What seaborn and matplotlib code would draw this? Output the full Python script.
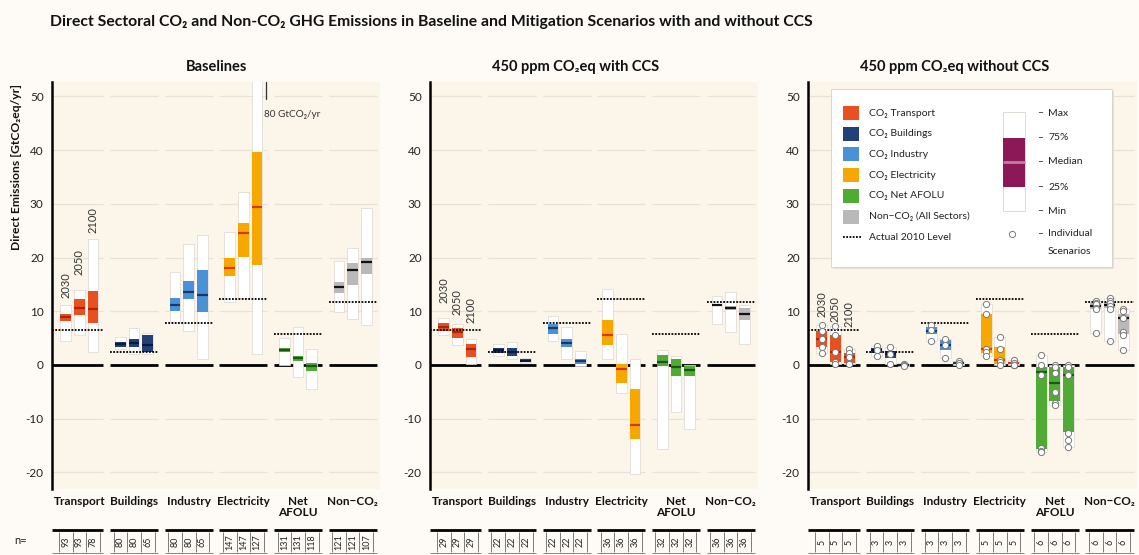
import numpy as np
import pandas as pd
import matplotlib
matplotlib.use("Agg")
import matplotlib.pyplot as plt
from matplotlib.patches import Rectangle
import seaborn as sns

# ---------------------------------------------------------------- data
sectors = ["Transport", "Buildings", "Industry", "Electricity", "Net\nAFOLU", "Non\u2212CO\u2082"]
years = ["2030", "2050", "2100"]
panel_titles = ["Baselines", "450 ppm CO\u2082eq with CCS", "450 ppm CO\u2082eq without CCS"]

# Actual 2010 emission level per sector [GtCO2eq/yr]
actual_2010 = [6.6, 2.5, 7.8, 12.3, 5.8, 11.8]

# Baselines: sector-major order (Transport 2030/2050/2100, Buildings ..., ...)
base_min = [4.5, 5.6, 2.4, 3.0, 2.0, 2.0, 8.0, 6.4, 1.1, 11.7, 12.5, 2.0, 0.0, -2.3, -4.5, 9.9, 8.6, 7.4]
base_q1 = [8.2, 9.3, 7.8, 3.3, 3.3, 2.4, 10.1, 12.2, 9.9, 16.5, 20.2, 18.6, 2.4, 0.8, -1.1, 13.4, 14.9, 16.9]
base_med = [8.9, 10.7, 10.4, 3.85, 4.1, 3.7, 11.2, 13.5, 13.0, 18.1, 24.6, 29.4, 2.8, 1.3, -0.2, 14.5, 17.7, 19.2]
base_q3 = [9.5, 12.3, 13.8, 4.3, 4.8, 5.6, 12.5, 15.7, 17.7, 19.9, 26.4, 39.7, 3.2, 1.7, 0.3, 15.5, 19.0, 20.0]
base_max = [11.2, 14.0, 23.5, 5.2, 6.9, 6.0, 17.3, 22.5, 24.2, 24.7, 32.3, 80.0, 5.1, 7.0, 3.0, 19.4, 21.7, 29.2]
base_n = [93, 93, 78, 80, 80, 65, 80, 80, 65, 147, 147, 127, 131, 131, 118, 121, 121, 107]

# 450 ppm CO2eq with CCS
ccs_min = [5.5, 3.7, 0.2, 1.6, 1.2, 0.4, 4.5, 1.2, -0.2, 1.1, -5.2, -20.3, -15.7, -8.7, -12.0, 7.6, 6.1, 3.9]
ccs_q1 = [6.4, 5.1, 1.4, 2.2, 1.6, 0.5, 5.8, 3.3, 0.2, 3.7, -3.4, -13.7, -0.2, -2.0, -2.0, 10.9, 10.3, 8.3]
ccs_med = [7.1, 6.1, 3.0, 2.8, 2.4, 0.8, 6.8, 4.1, 0.7, 5.5, -0.7, -11.1, 0.6, -0.4, -0.9, 11.2, 10.6, 9.5]
ccs_q3 = [7.8, 6.8, 3.9, 3.2, 3.1, 1.1, 7.6, 4.8, 1.2, 8.4, 0.2, -4.5, 1.9, 1.1, -0.2, 11.4, 10.9, 10.6]
ccs_max = [8.7, 7.6, 4.8, 3.9, 4.3, 1.3, 9.1, 7.0, 2.6, 14.2, 5.8, 1.1, 2.8, 1.6, 0.0, 12.8, 13.5, 11.2]
ccs_n = [29, 29, 29, 22, 22, 22, 22, 22, 22, 36, 36, 36, 32, 32, 32, 36, 36, 36]

# 450 ppm CO2eq without CCS
noccs_min = [2.2, 0.1, 0.1, 1.6, 0.2, -0.2, 4.5, 1.3, 0.0, 1.6, 0.0, 0.0, -16.3, -7.4, -15.2, 6.0, 4.5, 2.7]
noccs_q1 = [3.3, 0.6, 0.4, 2.2, 1.3, -0.1, 5.8, 2.7, 0.1, 2.3, 0.2, 0.1, -15.7, -6.8, -12.5, 10.5, 10.6, 5.8]
noccs_med = [4.8, 2.4, 1.5, 2.7, 2.0, 0.0, 6.4, 3.7, 0.3, 3.0, 1.0, 0.3, -1.3, -3.4, -1.9, 11.0, 11.2, 8.7]
noccs_q3 = [6.4, 5.6, 2.3, 3.1, 2.6, 0.05, 7.0, 4.6, 0.5, 9.5, 3.3, 0.6, -0.3, -0.3, -0.3, 11.5, 11.8, 9.4]
noccs_max = [7.4, 7.2, 2.9, 3.5, 3.3, 0.1, 7.4, 4.9, 0.7, 11.3, 5.2, 1.0, 1.9, 0.0, 0.0, 12.0, 12.4, 10.4]
noccs_n = [5, 5, 5, 3, 3, 3, 3, 3, 3, 5, 5, 5, 6, 6, 6, 6, 6, 6]

# Individual scenarios without CCS (one list per sector/year)
noccs_points = [
    [7.4, 6.4, 4.8, 3.3, 2.2], [7.2, 5.6, 2.4, 0.6, 0.1], [2.9, 2.3, 1.5, 0.4, 0.1],
    [3.5, 2.7, 1.6], [3.3, 2.0, 0.2], [0.1, 0.0, -0.1],
    [7.4, 6.6, 4.5], [4.9, 3.7, 1.3], [0.7, 0.3, 0.0],
    [11.3, 9.5, 3.0, 2.4, 1.6], [5.2, 2.9, 1.0, 0.6, 0.0], [1.0, 0.3, 0.0, 0.0, 0.0],
    [1.9, 0.0, -1.9, -15.5, -16.0, -16.3], [0.0, -0.3, -1.5, -5.0, -7.0, -7.4], [0.0, -0.3, -1.9, -12.7, -14.0, -15.2],
    [12.0, 11.6, 11.3, 10.7, 10.4, 6.0], [12.4, 11.9, 11.6, 10.9, 10.5, 4.5], [10.4, 10.1, 8.7, 6.1, 5.5, 2.7],
]

legend_labels = ["CO\u2082 Transport", "CO\u2082 Buildings", "CO\u2082 Industry", "CO\u2082 Electricity",
                 "CO\u2082 Net AFOLU", "Non\u2212CO\u2082 (All Sectors)"]
stat_labels = ["Max", "75%", "Median", "25%", "Min"]

# ---------------------------------------------------------------- style
sector_colors = ["#e8501f", "#22417a", "#4a92d8", "#f7a800", "#4fab34", "#b9b9b9"]
median_colors = ["#a9250b", "#0c1a3a", "#1b3768", "#d8361a", "#1c561b", "#111111"]
FIG_BG = "#fefbf6"
AX_BG = "#fcf5ea"
GRID = "#e8e1d6"
DOTS = (0, (1, 0.8))

sns.set_theme(style="white")
plt.rcParams["font.family"] = ["Lato", "Noto Sans", "DejaVu Sans"]
plt.rcParams["axes.unicode_minus"] = False

W, H = 1139, 555
fig = plt.figure(figsize=(W / 100, H / 100), dpi=100, facecolor=FIG_BG)


def px_axes(x0, y0, x1, y1):
    return fig.add_axes([x0 / W, 1 - y1 / H, (x1 - x0) / W, (y1 - y0) / H])


panel_x = [(52, 380), (430, 758), (808, 1137)]
AX_TOP, AX_BOT = 82, 489
YLIM = (-23.1, 52.7)
year_offsets = np.array([-0.25, 0.0, 0.25])
BAR_W = 0.2
xpos = np.array([s + o for s in range(6) for o in year_offsets])
box_colors = [sector_colors[s] for s in range(6) for _ in years]
med_colors = [median_colors[s] for s in range(6) for _ in years]

panels = [
    dict(stats=(base_min, base_q1, base_med, base_q3, base_max), n=base_n, points=None,
         year_y=[12.5, 16.8, 24.6], title_x=217),
    dict(stats=(ccs_min, ccs_q1, ccs_med, ccs_q3, ccs_max), n=ccs_n, points=None,
         year_y=[11.6, 9.3, 7.8], title_x=576),
    dict(stats=(noccs_min, noccs_q1, noccs_med, noccs_q3, noccs_max), n=noccs_n, points=noccs_points,
         year_y=[8.9, 8.0, 7.1], title_x=955),
]

for p, spec in enumerate(panels):
    x0, x1 = panel_x[p]
    ax = px_axes(x0, AX_TOP, x1, AX_BOT)
    ax.set_facecolor(AX_BG)

    # segmented grid, zero line and actual 2010 level
    for s in range(6):
        left = -0.5 if s == 0 else s - 0.44
        ax.hlines([-20, -10, 10, 20, 30, 40, 50], left, s + 0.44, color=GRID, lw=0.9, zorder=1)
        ax.hlines(0, left, s + 0.44, color="black", lw=2.0, zorder=1.5)
        ax.hlines(actual_2010[s], left, s + 0.44, color="black", lw=1.3, linestyles=[DOTS], zorder=4)

    mn, q1, md, q3, mx = (np.asarray(a, dtype=float) for a in spec["stats"])
    ax.bar(xpos, mx - mn, bottom=mn, width=BAR_W, color="white", edgecolor="#dcd7cf",
           linewidth=0.5, zorder=2)
    ax.bar(xpos, q3 - q1, bottom=q1, width=BAR_W, color=box_colors, edgecolor="none", zorder=3)
    ax.hlines(md, xpos - BAR_W / 2, xpos + BAR_W / 2, colors=med_colors, lw=1.6, zorder=5)

    if spec["points"] is not None:
        rows = [(xpos[i], v) for i, vals in enumerate(spec["points"]) for v in vals]
        df = pd.DataFrame(rows, columns=["x", "value"])
        sns.scatterplot(data=df, x="x", y="value", ax=ax, s=20, color="white",
                        edgecolor="#7a7a7a", linewidth=0.7, zorder=6, legend=False)

    for k, yr in enumerate(years):
        ax.text(year_offsets[k], spec["year_y"][k], yr, rotation=90, ha="center", va="bottom",
                fontsize=8, color="#333333", zorder=7)

    ax.set_xlim(-0.5, 5.5)
    ax.set_ylim(*YLIM)
    ax.set_xlabel("")
    ax.set_ylabel("")
    ax.set_xticks([])
    ax.set_yticks([-20, -10, 0, 10, 20, 30, 40, 50])
    ax.tick_params(axis="y", length=0, pad=6, labelsize=8.5, labelcolor="#222222")
    for side in ["top", "right", "bottom"]:
        ax.spines[side].set_visible(False)
    ax.spines["left"].set_color("black")
    ax.spines["left"].set_linewidth(1.8)

    if p == 0:
        # off-scale maximum of the 2100 electricity baseline
        ex = 3 + year_offsets[2] + 0.17
        ax.plot([ex, ex], [YLIM[1], 49.6], color="#333333", lw=0.9, clip_on=False, zorder=7)
        ax.text(ex - 0.04, 46.6, "80 GtCO\u2082/yr", fontsize=7.2, color="#333333",
                ha="left", va="center", zorder=7)

    fig.text(spec["title_x"] / W, 1 - 67 / H, panel_titles[p], fontsize=10.5,
             fontweight="bold", ha="center", va="center", color="#111111")

    # sector names and scenario counts below the panel
    ub = px_axes(x0, AX_BOT, x1, H)
    ub.set_xlim(-0.5, 5.5)
    ub.set_ylim(H, AX_BOT)
    ub.axis("off")
    for s in range(6):
        left = -0.5 if s == 0 else s - 0.44
        ub.text(s, 496, sectors[s], ha="center", va="top", fontsize=8.5, fontweight="bold",
                linespacing=1.05, color="#111111")
        ub.hlines(530, left, s + 0.44, color="black", lw=2.0)
        ub.hlines(553, left, s + 0.44, color="#888888", lw=0.7)
        ub.vlines([s - 0.375, s - 0.125, s + 0.125, s + 0.375], 532, 552, color="#666666", lw=0.6)
    for i, nv in enumerate(spec["n"]):
        ub.text(xpos[i], 542, str(nv), rotation=90, ha="center", va="center",
                fontsize=6.5, color="#222222")

fig.text(14 / W, 1 - 541 / H, "n=", fontsize=8, ha="left", va="center", color="#222222")
fig.text(50 / W, 1 - 22 / H,
         "Direct Sectoral CO\u2082 and Non-CO\u2082 GHG Emissions in Baseline and Mitigation Scenarios with and without CCS",
         fontsize=11.3, fontweight="bold", ha="left", va="center", color="#111111")
fig.text(17 / W, 1 - 84 / H, "Direct Emissions [GtCO\u2082eq/yr]", rotation=90, fontsize=8.7,
         fontweight="bold", ha="center", va="top", color="#111111")

# ---------------------------------------------------------------- legend
LX0, LY0, LX1, LY1 = 830, 88, 1116, 270
lg = px_axes(LX0, LY0, LX1, LY1)
lg.set_xlim(LX0, LX1)
lg.set_ylim(LY1, LY0)
lg.axis("off")
lg.add_patch(Rectangle((833, 91), 281, 178, facecolor="#e6e1d9", edgecolor="none", zorder=0))
lg.add_patch(Rectangle((831, 89), 281, 178, facecolor="white", edgecolor="#d4d0c9", lw=0.6, zorder=1))
for i, lab in enumerate(legend_labels):
    yc = 113 + i * 20.7
    lg.add_patch(Rectangle((843, yc - 7), 16, 14, facecolor=sector_colors[i], edgecolor="none", zorder=2))
    lg.text(869, yc, lab, fontsize=7.5, ha="left", va="center", color="#222222", zorder=3)
lg.plot([843, 861], [237, 237], color="black", lw=1.3, ls=DOTS, zorder=2)
lg.text(869, 237, "Actual 2010 Level", fontsize=7.5, ha="left", va="center", color="#222222", zorder=3)

lg.add_patch(Rectangle((1003, 112), 22, 99, facecolor="white", edgecolor="#d9d5ce", lw=0.6, zorder=2))
lg.add_patch(Rectangle((1003, 138), 22, 49, facecolor="#8c1857", edgecolor="none", zorder=3))
lg.hlines(162, 1003, 1025, color="#c27d9d", lw=2.0, zorder=4)
for lab, yc in zip(stat_labels, [113, 138, 162, 187, 211]):
    lg.text(1037, yc, "\u2013", fontsize=7.5, ha="left", va="center", color="#222222", zorder=3)
    lg.text(1048, yc, lab, fontsize=7.5, ha="left", va="center", color="#222222", zorder=3)
lg.scatter([1012], [234], s=20, color="white", edgecolor="#7a7a7a", linewidth=0.7, zorder=5)
lg.text(1037, 234, "\u2013", fontsize=7.5, ha="left", va="center", color="#222222", zorder=3)
lg.text(1048, 234, "Individual", fontsize=7.5, ha="left", va="center", color="#222222", zorder=3)
lg.text(1048, 251, "Scenarios", fontsize=7.5, ha="left", va="center", color="#222222", zorder=3)

fig.savefig("out.png", dpi=100, facecolor=FIG_BG)
